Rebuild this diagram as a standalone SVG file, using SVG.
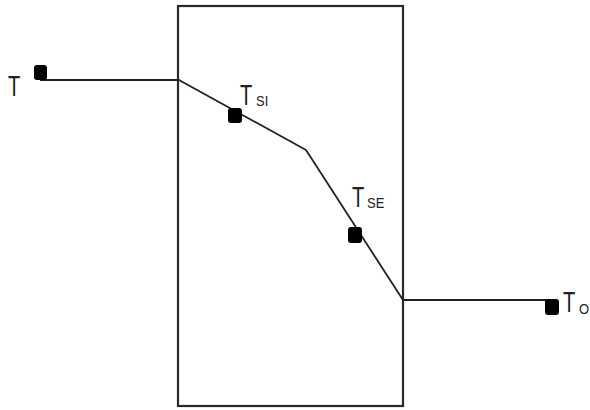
<svg xmlns="http://www.w3.org/2000/svg" width="590" height="410" viewBox="0 0 590 410">
<style>
.wall{fill:none;stroke:#2a2a2a;stroke-width:2.2}
.ln{fill:none;stroke:#222;stroke-width:1.8;stroke-linejoin:round}
.pt{fill:#000}
.lbl{font-family:"Liberation Sans",Arial,sans-serif;font-size:20px;fill:#222}
.sub{font-family:"Liberation Sans",Arial,sans-serif;font-size:13px;fill:#222}
</style>
<rect id="wall" class="wall" x="178" y="6" width="225" height="400"/>
<g id="connectors">
<polyline class="ln" points="40,80 179,80 306,150 403,300 552,300"/>
</g>
<g id="node-T">
<rect class="pt" x="34" y="65" width="13" height="15" rx="3"/>
<text class="lbl" transform="translate(8,96) scale(1,1.45)">T</text>
</g>
<g id="node-TSI">
<rect class="pt" x="228" y="108" width="14" height="15" rx="3"/>
<text class="lbl" transform="translate(240,105) scale(1,1.45)">T</text>
<text class="sub" transform="translate(256,106) scale(1,1.1)">SI</text>
</g>
<g id="node-TSE">
<rect class="pt" x="348" y="227" width="14" height="16" rx="3"/>
<text class="lbl" transform="translate(352,207) scale(1,1.45)">T</text>
<text class="sub" transform="translate(367,208) scale(1,1.1)">SE</text>
</g>
<g id="node-TO">
<rect class="pt" x="545" y="299" width="14" height="16" rx="3"/>
<text class="lbl" transform="translate(563,312) scale(1,1.45)">T</text>
<text class="sub" transform="translate(579,314) scale(1,1.1)">O</text>
</g>
</svg>
